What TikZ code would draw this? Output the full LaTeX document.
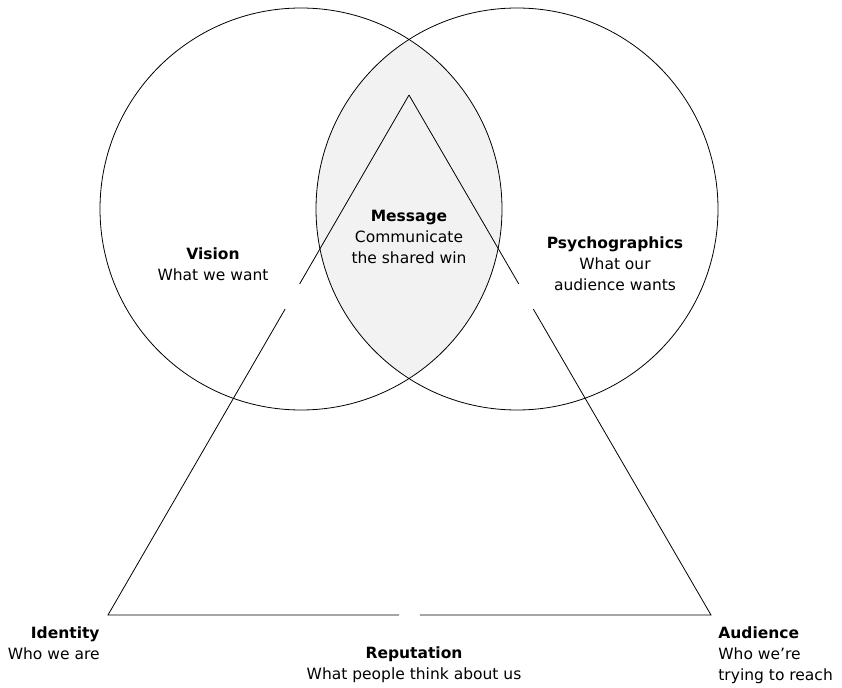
\documentclass[tikz,border=0pt]{standalone}
\usepackage{fontspec}
\setmainfont{DejaVu Sans}
\usepackage{tikz}
\usetikzlibrary{positioning,calc}
\definecolor{lensGray}{HTML}{F2F2F2}

\begin{document}
\begin{tikzpicture}[x=1pt, y=-1pt, line width=0.8pt,
    every node/.style={font=\fontsize{15.5}{21}\selectfont, inner sep=0pt, align=center},
    label/.style={anchor=north}]
    \useasboundingbox (0,0) rectangle (842,687);
    % circles and shared area
    \coordinate (cv) at (301,209);
    \coordinate (cp) at (517,209);
    \begin{scope}
        \clip (cv) circle (201);
        \fill[lensGray] (cp) circle (201);
    \end{scope}
    \draw (cv) circle (201);
    \draw (cp) circle (201);
    % triangle corners
    \coordinate (top) at (409,95);
    \coordinate (bl) at (108,615);
    \coordinate (br) at (711,615);
    \draw (top) -- ($(top)!0.3635!(bl)$);
    \draw ($(top)!0.4115!(bl)$) -- (bl) -- ($(bl)!0.4826!(br)$);
    \draw (top) -- ($(top)!0.3635!(br)$);
    \draw ($(top)!0.4115!(br)$) -- (br) -- ($(br)!0.4826!(bl)$);
    % labels
    \node[label] (msg) at (409,209.5) {\textbf{Message}\\Communicate\\the shared win};
    \node[label] (vis) at (213,247.5) {\textbf{Vision}\\What we want};
    \node[label] (psy) at (615,236.5) {\textbf{Psychographics}\\What our\\audience wants};
    \node[anchor=north east, align=right] (idt) at (100,626.5) {\textbf{Identity}\\Who we are};
    \node[label] (rep) at (414,646.5) {\textbf{Reputation}\\What people think about us};
    \node[anchor=north west, align=left] (aud) at (718,626.5) {\textbf{Audience}\\Who we’re\\trying to reach};
\end{tikzpicture}
\end{document}
